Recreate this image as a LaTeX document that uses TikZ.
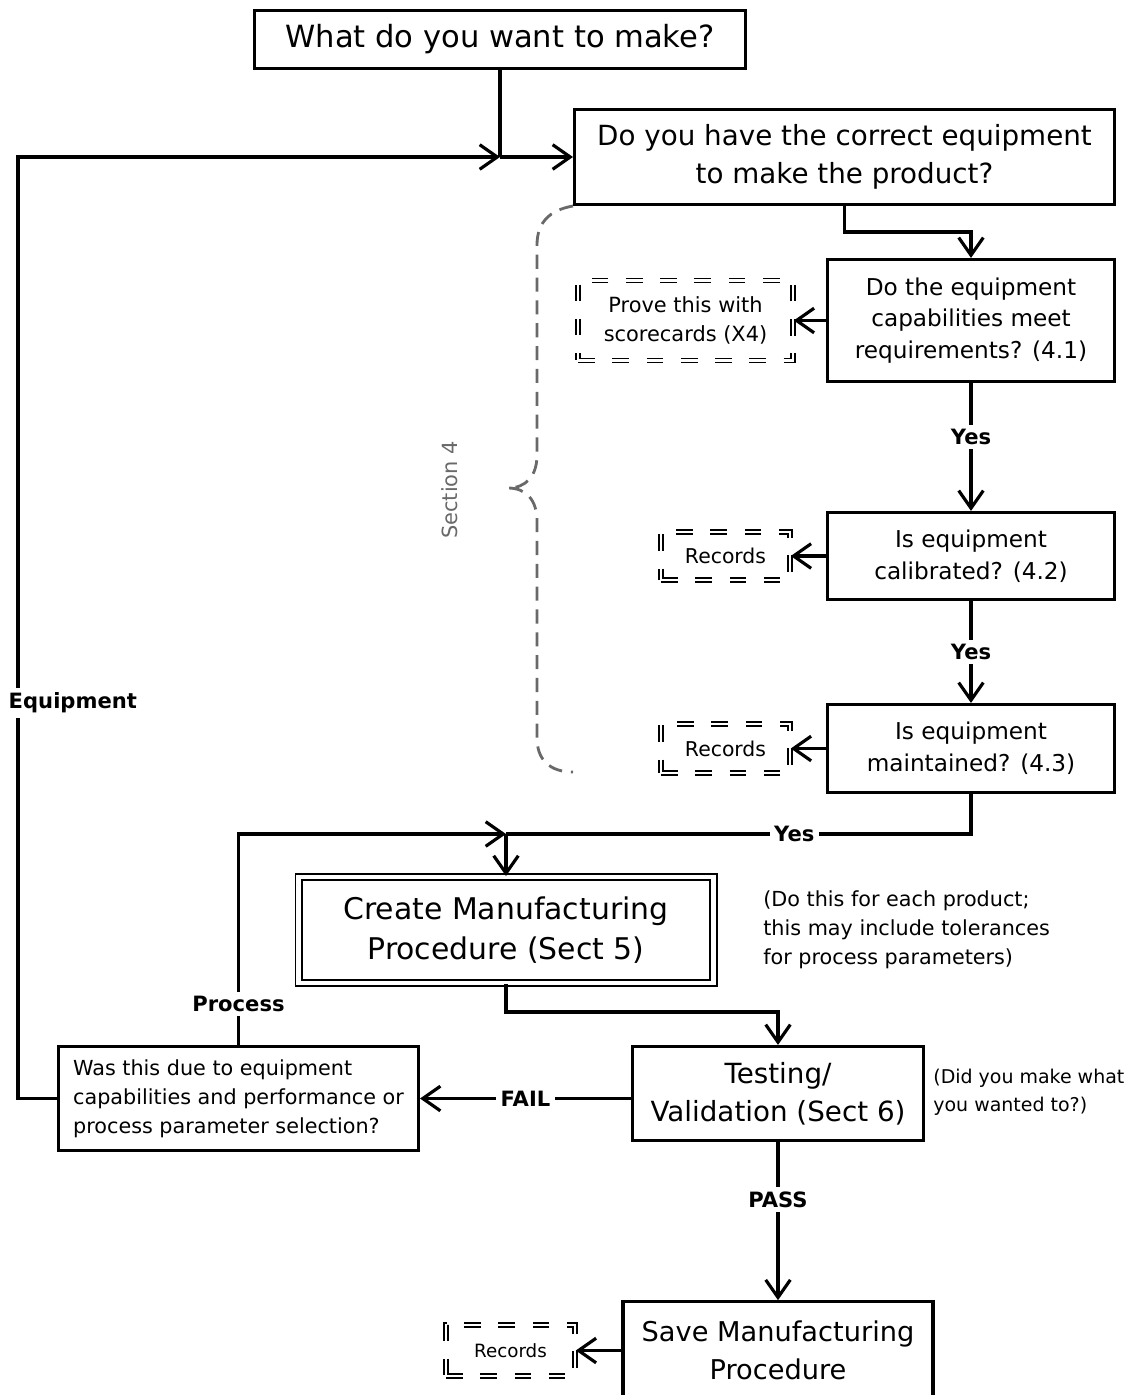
\documentclass[tikz,border=0pt]{standalone}
\usepackage{fontspec}
\setmainfont{DejaVu Sans}
\usetikzlibrary{arrows.meta,positioning}
\definecolor{bracegray}{RGB}{105,105,105}
\newcommand{\fsz}[2]{\fontsize{#1}{#2}\selectfont}

\begin{document}
\begin{tikzpicture}[x=0.02cm, y=-0.02cm,
  box/.style={rectangle, draw, line width=1.8pt, align=center, inner sep=0pt},
  recbox/.style={rectangle, draw, double, double distance=1.2pt, line width=0.9pt,
                 dash pattern=on 9.5pt off 10pt, align=center, inner sep=0pt, font=\fsz{11.6}{16.4}},
  arrow/.style={-{Straight Barb[length=10pt, width=14pt, line width=1.8pt]}, line width=2.2pt},
  link/.style={line width=2.2pt},
  lbl/.style={fill=white, font=\bfseries\fsz{12}{14}, inner sep=2.5pt},
  note/.style={anchor=west, align=left, inner sep=0pt}
]
\useasboundingbox (0,0) rectangle (1134,1395);

% Question boxes
\node[box, minimum width=9.82cm, minimum height=1.16cm, font=\fsz{17.4}{21.5}] (make) at (500,39.5) {What do you want to make?};
\node[box, minimum width=10.8cm, minimum height=1.9cm, font=\fsz{15.8}{21.5}] (equip) at (844.5,157) {Do you have the correct equipment\\to make the product?};
\node[box, minimum width=5.74cm, minimum height=2.44cm, font=\fsz{13.2}{18}] (capab) at (971,320.5) {Do the equipment\\capabilities meet\\requirements? (4.1)};
\node[box, minimum width=5.74cm, minimum height=1.74cm, font=\fsz{13.2}{18}] (calib) at (971,556) {Is equipment\\calibrated? (4.2)};
\node[box, minimum width=5.74cm, minimum height=1.76cm, font=\fsz{13.2}{18}] (maint) at (971,748.5) {Is equipment\\maintained? (4.3)};

% Record boxes
\node[recbox, minimum width=4.3cm, minimum height=1.6cm, font=\fsz{11.9}{16.4}] (prove) at (685.5,320.5) {Prove this with\\scorecards (X4)};
\node[recbox, minimum width=2.58cm, minimum height=0.96cm] (rec1) at (725.5,556) {Records};
\node[recbox, minimum width=2.58cm, minimum height=0.98cm] (rec2) at (725.5,748.5) {Records};
\node[recbox, minimum width=2.58cm, minimum height=1.02cm, font=\fsz{10.4}{14}] (rec3) at (510.5,1350.5) {Records};

% Procedure boxes
\node[box, double, double distance=2.4pt, line width=1.1pt, minimum width=8.3cm, minimum height=2.12cm,
      font=\fsz{17}{23.2}] (create) at (506,930) {Create Manufacturing\\Procedure (Sect 5)};
\node[box, minimum width=7.2cm, minimum height=2.08cm, align=left, font=\fsz{11.8}{16.4}] (was) at (238.5,1098.5)
      {Was this due to equipment\\capabilities and performance or\\process parameter selection?};
\node[box, minimum width=5.82cm, minimum height=1.88cm, font=\fsz{15.8}{21.5}] (test) at (778,1093.5) {Testing/\\Validation (Sect 6)};
\node[box, minimum width=6.2cm, minimum height=1.95cm, font=\fsz{15.5}{21.5}] (save) at (778,1350.5) {Save Manufacturing\\Procedure};

% Side notes
\node[note, font=\fsz{11.8}{16.4}] (tolnote) at (763,930) {(Do this for each product;\\this may include tolerances\\for process parameters)};
\node[note, font=\fsz{10.8}{15.9}] (didnote) at (933,1092) {(Did you make what\\you wanted to?)};

% Junctions
\coordinate (j1) at (500,157);
\coordinate (j2) at (506,834);
\coordinate (cornerL) at (18,1098.5);

% Connectors
\draw[link] (make.south) -- (j1);
\draw[arrow] (j1) -- (equip.west);
\draw[arrow] (was.west) -- (cornerL) |- (j1);
\node[lbl, anchor=west] (eqlbl) at (4,703) {Equipment};
\draw[arrow] (equip.south) -- ++(0,26) -| (capab.north);
\draw[arrow] (capab.west) -- (prove.east);
\draw[arrow] (capab.south) -- node[lbl, pos=0.42] (yes1) {Yes} (calib.north);
\draw[arrow] (calib.west) -- (rec1.east);
\draw[arrow] (calib.south) -- node[lbl] (yes2) {Yes} (maint.north);
\draw[arrow] (maint.west) -- (rec2.east);
\draw[link] (maint.south) |- node[lbl, pos=0.69] (yes3) {Yes} (j2);
\draw[arrow] (was.north) |- node[lbl, pos=0.097] (proclbl) {Process} (j2);
\draw[arrow] (j2) -- (create.north);
\draw[arrow] (create.south) -- ++(0,28) -| (test.north);
\draw[arrow] (test.west |- was.east) -- node[lbl] (faillbl) {FAIL} (was.east);
\draw[arrow] (test.south) -- node[lbl, pos=0.365] (passlbl) {PASS} (save.north);
\draw[arrow] (save.west) -- (rec3.east);

% Section 4 brace
\draw[bracegray, line width=1.6pt, dash pattern=on 8pt off 5pt]
  (573,206) .. controls (550,210) and (537,222) .. (537,245) -- (537,455)
  .. controls (537,476) and (526,488) .. (508,488)
  .. controls (526,488) and (537,500) .. (537,521) -- (537,738)
  .. controls (537,760) and (550,772) .. (573,772);
\node[rotate=90, text=bracegray, font=\fsz{11.9}{14}] (sectlbl) at (450,490) {Section 4};
\end{tikzpicture}
\end{document}
